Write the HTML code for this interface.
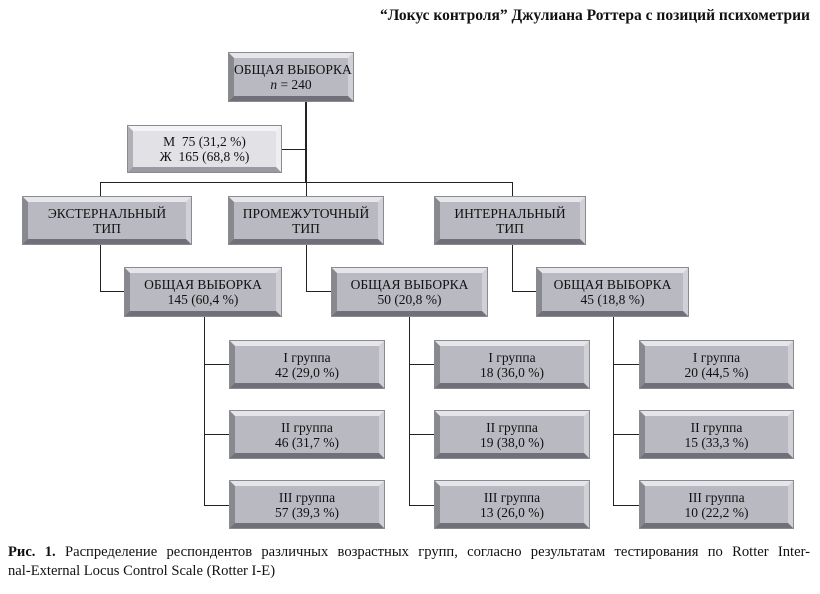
<!DOCTYPE html>
<html><head><meta charset="utf-8"><style>
body{margin:0;background:#fff;}
#c{position:relative;width:820px;height:594px;overflow:hidden;font-family:"Liberation Serif",serif;color:#111;}
.b{position:absolute;box-sizing:border-box;border-style:solid;border-width:5px;border-color:#e6e6ea #d0d0d6 #707078 #88888f;background:#b9b9c1;text-align:center;font-size:13.5px;line-height:15px;display:flex;flex-direction:column;justify-content:center;outline:1px solid #8a8a92;white-space:nowrap;}
.l{background:#e2e2e6;border-color:#f4f4f6 #eeeef0 #9a9aa2 #b0b0b6;}
.h{position:absolute;height:1px;background:#222;}
.v{position:absolute;width:1px;background:#222;}
</style></head><body><div id="c">
<div style="position:absolute;right:10px;top:7px;font-weight:bold;font-size:15.5px;">“Локус контроля” Джулиана Роттера с позиций психометрии</div>

<div class="v" style="left:305px;top:101px;height:81px;width:2px"></div>
<div class="h" style="left:281px;top:149px;width:25px"></div>
<div class="h" style="left:100px;top:182px;width:413px"></div>
<div class="v" style="left:100px;top:182px;height:109px"></div>
<div class="v" style="left:306px;top:182px;height:109px"></div>
<div class="v" style="left:512px;top:182px;height:109px"></div>
<div class="h" style="left:100px;top:291px;width:26px"></div>
<div class="h" style="left:306px;top:291px;width:26px"></div>
<div class="h" style="left:512px;top:291px;width:26px"></div>

<div class="v" style="left:204px;top:316px;height:189px"></div>
<div class="v" style="left:409px;top:316px;height:189px"></div>
<div class="v" style="left:613px;top:316px;height:189px"></div>
<div class="h" style="left:204px;top:364px;width:26px"></div>
<div class="h" style="left:204px;top:434px;width:26px"></div>
<div class="h" style="left:204px;top:505px;width:26px"></div>
<div class="h" style="left:409px;top:364px;width:26px"></div>
<div class="h" style="left:409px;top:434px;width:26px"></div>
<div class="h" style="left:409px;top:505px;width:26px"></div>
<div class="h" style="left:613px;top:364px;width:27px"></div>
<div class="h" style="left:613px;top:434px;width:27px"></div>
<div class="h" style="left:613px;top:505px;width:27px"></div>

<div class="b" style="left:229px;top:53px;width:124px;height:48px">ОБЩАЯ ВЫБОРКА<div><i>n</i> = 240</div></div>
<div class="b l" style="left:128px;top:126px;width:153px;height:46px">М&nbsp; 75 (31,2 %)<div>Ж&nbsp; 165 (68,8 %)</div></div>

<div class="b" style="left:23px;top:197px;width:168px;height:47px">ЭКСТЕРНАЛЬНЫЙ<div>ТИП</div></div>
<div class="b" style="left:229px;top:197px;width:154px;height:47px">ПРОМЕЖУТОЧНЫЙ<div>ТИП</div></div>
<div class="b" style="left:435px;top:197px;width:150px;height:47px">ИНТЕРНАЛЬНЫЙ<div>ТИП</div></div>

<div class="b" style="left:125px;top:268px;width:156px;height:48px">ОБЩАЯ ВЫБОРКА<div>145 (60,4 %)</div></div>
<div class="b" style="left:332px;top:268px;width:155px;height:48px">ОБЩАЯ ВЫБОРКА<div>50 (20,8 %)</div></div>
<div class="b" style="left:537px;top:268px;width:151px;height:48px">ОБЩАЯ ВЫБОРКА<div>45 (18,8 %)</div></div>

<div class="b" style="left:230px;top:341px;width:154px;height:47px">I группа<div>42 (29,0 %)</div></div>
<div class="b" style="left:230px;top:411px;width:154px;height:47px">II группа<div>46 (31,7 %)</div></div>
<div class="b" style="left:230px;top:481px;width:154px;height:47px">III группа<div>57 (39,3 %)</div></div>
<div class="b" style="left:435px;top:341px;width:154px;height:47px">I группа<div>18 (36,0 %)</div></div>
<div class="b" style="left:435px;top:411px;width:154px;height:47px">II группа<div>19 (38,0 %)</div></div>
<div class="b" style="left:435px;top:481px;width:154px;height:47px">III группа<div>13 (26,0 %)</div></div>
<div class="b" style="left:640px;top:341px;width:153px;height:47px">I группа<div>20 (44,5 %)</div></div>
<div class="b" style="left:640px;top:411px;width:153px;height:47px">II группа<div>15 (33,3 %)</div></div>
<div class="b" style="left:640px;top:481px;width:153px;height:47px">III группа<div>10 (22,2 %)</div></div>

<div style="position:absolute;left:8px;top:543px;width:802px;font-size:14.6px;line-height:19px;text-align:justify;text-align-last:justify;white-space:nowrap;"><b>Рис. 1.</b> Распределение респондентов различных возрастных групп, согласно результатам тестирования по Rotter Inter-</div>
<div style="position:absolute;left:8px;top:562px;font-size:14.6px;line-height:19px;">nal-External Locus Control Scale (Rotter I-E)</div>
</div></body></html>
